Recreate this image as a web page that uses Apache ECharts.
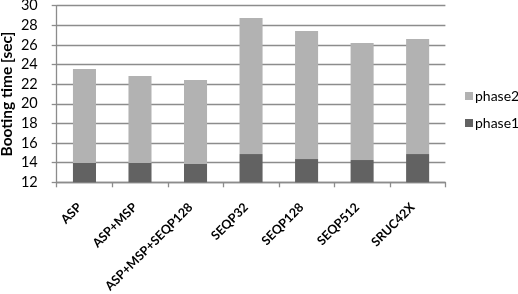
<!DOCTYPE html>
<html><head><meta charset="utf-8">
<script src="https://cdn.jsdelivr.net/npm/echarts@6/dist/echarts.min.js"></script>
<style>html,body{margin:0;padding:0;background:#fff}#c{width:518px;height:294px}</style>
</head><body><div id="c"></div>
<script>
const categories = ["ASP","ASP+MSP","ASP+MSP+SEQP128","SEQP32","SEQP128","SEQP512","SRUC42X"];
const phase1 = [13.97, 13.97, 13.87, 14.88, 14.37, 14.27, 14.88];
const phase2 = [9.58, 8.87, 8.56, 13.87, 13.05, 11.93, 11.72];
const yTicks = [12,14,16,18,20,22,24,26,28,30];
const font = "Lato";
const chart = echarts.init(document.getElementById('c'), null, {renderer:'canvas'});
chart.setOption({
  animation:false,
  backgroundColor:'#fff',
  grid:{left:56.7, right:72.6, top:5.7, bottom:111.7, containLabel:false, outerBoundsMode:'none'},
  legend:{
    orient:'vertical', left:460, top:84, itemWidth:8, itemHeight:8, itemGap:13,
    data:['phase2','phase1'],
    textStyle:{fontFamily:font, fontSize:14, color:'#000', padding:[0,0,0,-3]},
    icon:'rect'
  },
  xAxis:{
    type:'category', data:categories, boundaryGap:true,
    axisLine:{lineStyle:{color:'#8c8c8c', width:1.3}},
    axisTick:{show:true, length:5, inside:false, alignWithLabel:false, lineStyle:{color:'#8c8c8c', width:1.3}},
    axisLabel:{rotate:45, margin:18, interval:0, padding:[0,7,0,0], fontFamily:font, fontSize:12.5, fontWeight:'bold', color:'#000'}
  },
  yAxis:{
    type:'value', min:yTicks[0], max:yTicks[yTicks.length-1], interval:2,
    name:'Booting time [sec]', nameLocation:'middle', nameGap:42, nameRotate:90, nameMoveOverlap:false,
    nameTextStyle:{fontFamily:font, fontSize:15.5, fontWeight:'bold', color:'#000'},
    axisLine:{show:true, lineStyle:{color:'#8c8c8c', width:1.3}},
    axisTick:{show:true, length:5, lineStyle:{color:'#8c8c8c', width:1.3}},
    splitLine:{lineStyle:{color:'#8c8c8c', width:1.3}},
    axisLabel:{fontFamily:font, fontSize:14.5, color:'#000', margin:19}
  },
  series:[
    {name:'phase1', type:'bar', stack:'t', data:phase1, barWidth:'41.5%', itemStyle:{color:'#626262'}},
    {name:'phase2', type:'bar', stack:'t', data:phase2, barWidth:'41.5%', itemStyle:{color:'#b2b2b2'}}
  ]
});
</script></body></html>
